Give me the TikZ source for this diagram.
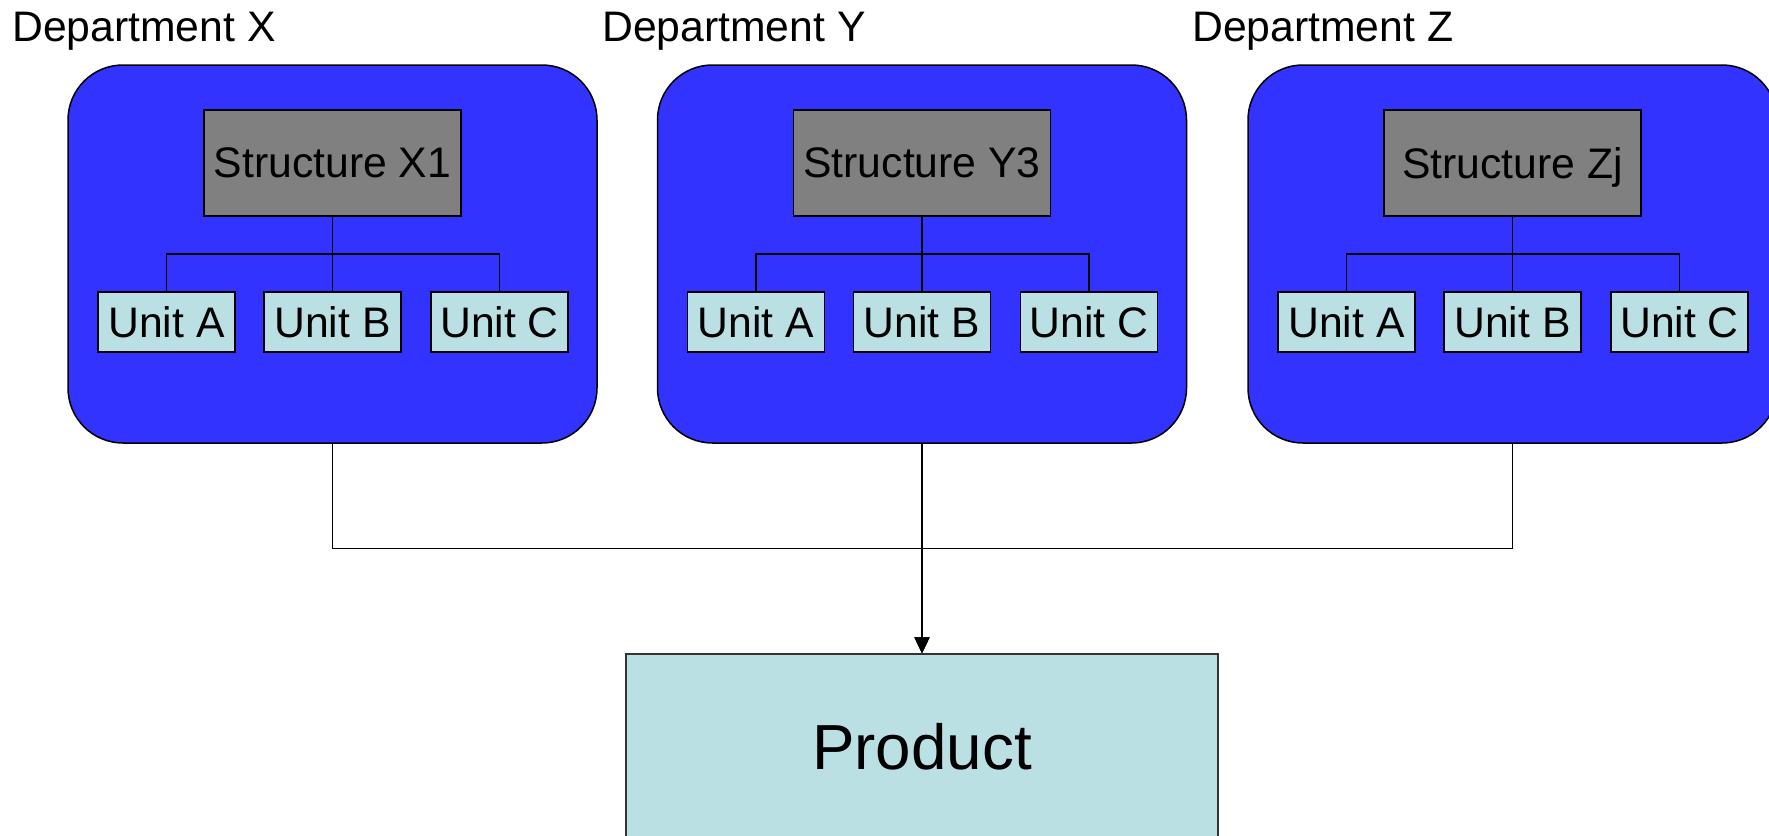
\documentclass[tikz,border=0pt]{standalone}
\usepackage{fontspec}
\setmainfont{Liberation Sans}
\usetikzlibrary{arrows.meta,calc}
\definecolor{deptblue}{RGB}{51,51,255}
\definecolor{structgray}{RGB}{128,128,128}
\definecolor{unitcyan}{RGB}{187,224,227}
\tikzset{
  deptbox/.style={draw=black,line width=1.5pt,fill=deptblue,rounded corners=55pt,
    minimum width=529pt,minimum height=378pt,inner sep=0pt},
  deptlabel/.style={anchor=base west,inner sep=0pt,font=\fontsize{42.7pt}{47pt}\selectfont},
  structbox/.style={draw=black,line width=1.6pt,fill=structgray,minimum width=257pt,
    minimum height=106pt,inner sep=0pt,text depth=0pt,font=\fontsize{42.7pt}{47pt}\selectfont},
  unitbox/.style={draw=black,line width=1.5pt,fill=unitcyan,minimum width=137pt,
    minimum height=60pt,inner sep=0pt,text depth=0pt,font=\fontsize{42.7pt}{47pt}\selectfont},
  prodbox/.style={draw=black!80,line width=1.5pt,fill=unitcyan,minimum width=592pt,
    minimum height=184pt,inner sep=0pt,text depth=0pt,font=\fontsize{63.7pt}{70pt}\selectfont},
  tree/.style={draw=black,line width=1.4pt},
  feed/.style={draw=black,line width=1.2pt,-{Triangle[length=16pt,width=15pt]}}
}
\begin{document}
\begin{tikzpicture}[x=1pt,y=-1pt]
  \useasboundingbox (0,0) rectangle (1769,835);
  \clip (0,0) rectangle (1769,835);

  % three departments, each with a structure and three units
  \foreach \d/\cx/\s in {x/332.5/X1,y/922/Y3,z/1512.5/Zj}{
    \node[deptbox] (dept\d) at (\cx,254) {};
    \node[structbox] (st\d) at (\cx,163) {Structure \s};
    \node[unitbox] (ua\d) at (\cx-166,322) {Unit A};
    \node[unitbox] (ub\d) at (\cx,322) {Unit B};
    \node[unitbox] (uc\d) at (\cx+167,322) {Unit C};
    \coordinate (bus\d) at (\cx,254);
    \draw[tree] (st\d.south) -- (bus\d) -- (ub\d.north);
    \draw[tree] (bus\d) -| (ua\d.north);
    \draw[tree] (bus\d) -| (uc\d.north);
  }

  \node[deptlabel] (labx) at (12,41) {Department X};
  \node[deptlabel] (laby) at (602,41) {Department Y};
  \node[deptlabel] (labz) at (1192,41) {Department Z};

  % product fed by all departments
  \node[prodbox] (prod) at (922,746) {Product};
  \draw[feed] (deptx.south) -- ++(0,105) -| (prod.north);
  \draw[feed] (deptz.south) -- ++(0,105) -| (prod.north);
  \draw[feed] (depty.south) -- (prod.north);
\end{tikzpicture}
\end{document}
